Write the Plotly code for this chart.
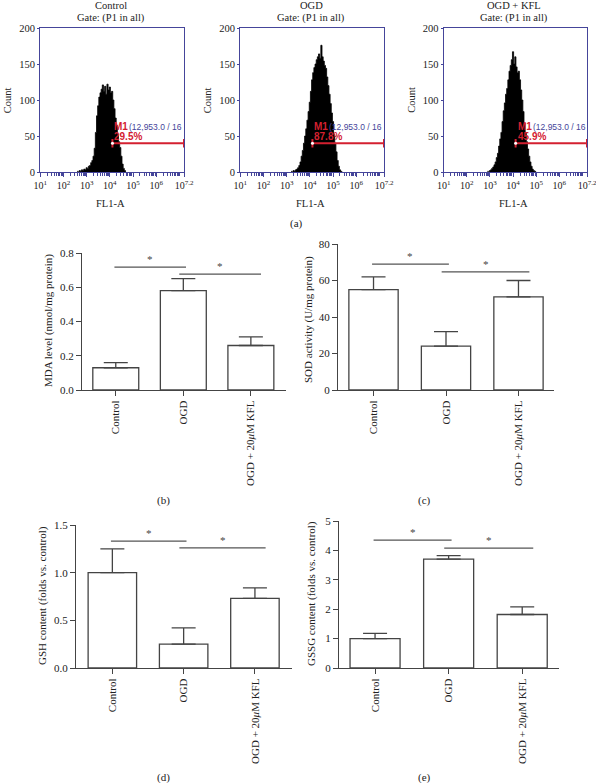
import numpy as np
import plotly.graph_objects as go

# ---------------- data ----------------
hist_titles = ["Control", "OGD", "OGD + KFL"]
gate_text = "Gate: (P1 in all)"
gate_pct = ["29.5%", "87.8%", "45.9%"]
gate_lo = 12953.0
gate_hi_exp = 7.2
gate_level = 40
hist_tick_exps = [1, 2, 3, 4, 5, 6, 7.2]
hist_tick_text = ["10<sup>1</sup>", "10<sup>2</sup>", "10<sup>3</sup>", "10<sup>4</sup>",
                  "10<sup>5</sup>", "10<sup>6</sup>", "10<sup>7.2</sup>"]

ctrl_start, ogd_start, kfl_start = 2.60, 3.20, 2.90
bin_step = 0.05
ctrl_counts = [1, 0, 2, 1, 3, 2, 4, 3, 6, 5, 8, 9, 13, 16, 22, 33, 55, 78, 92, 104, 110,
               115, 121, 112, 119, 108, 122, 114, 118, 110, 112, 100, 88, 75, 65, 52, 42,
               34, 22, 11, 5, 2, 0]
ogd_counts = [1, 0, 2, 1, 3, 4, 6, 9, 14, 22, 30, 40, 50, 60, 72, 84, 97, 112, 128, 138,
              145, 150, 156, 160, 164, 158, 176, 160, 154, 148, 144, 132, 120, 108, 95, 82,
              70, 52, 40, 28, 16, 8, 3, 1, 0]
kfl_counts = [1, 0, 2, 3, 5, 7, 10, 14, 20, 26, 36, 46, 55, 70, 85, 96, 108, 116, 128, 140,
              148, 156, 167, 150, 160, 146, 138, 140, 128, 114, 100, 84, 68, 55, 42, 32, 22,
              14, 8, 4, 2, 1, 0]

categories = ["Control", "OGD", "OGD + 20<i>μ</i>M KFL"]
mda_mean = [0.13, 0.58, 0.26]
mda_err = [0.03, 0.07, 0.05]
sod_mean = [55, 24, 51]
sod_err = [7, 8, 9]
gsh_mean = [1.0, 0.25, 0.73]
gsh_err = [0.25, 0.17, 0.11]
gssg_mean = [1.0, 3.70, 1.82]
gssg_err = [0.18, 0.12, 0.26]
sig_spans = [(-0.02, 1.04), (0.94, 2.15)]
mda_sig_y = [0.718, 0.677]
sod_sig_y = [69, 64.7]
gsh_sig_y = [1.33, 1.26]
gssg_sig_y = [4.35, 4.08]

# ---------------- layout helpers ----------------
W, H = 596, 783
SERIF = "Liberation Serif"
frame = "#45459a"
dark = "#444444"
red = "#d42030"


def px_x(p):
    return p / W


def px_y(p):
    return 1 - p / H


def paper_text(text, x, y, size=10.5, angle=0):
    return dict(text=text, x=px_x(x), y=px_y(y), xref="paper", yref="paper", showarrow=False,
                xanchor="center", yanchor="middle", textangle=angle,
                font=dict(family=SERIF, size=size, color="#222"))


fig = go.Figure()
annotations = []
shapes = []

# ---------------- histograms (a) ----------------
hist_sets = [(ctrl_start, ctrl_counts), (ogd_start, ogd_counts), (kfl_start, kfl_counts)]
hist_x_px = [(40.3, 184.0), (240.3, 384.0), (443.7, 587.0)]
for i, ((start, counts), (xl, xr)) in enumerate(zip(hist_sets, hist_x_px)):
    n = i + 1
    xa = f"x{n}" if n > 1 else "x"
    ya = f"y{n}" if n > 1 else "y"
    exps = start + bin_step * np.arange(len(counts))
    fig.add_trace(go.Scatter(x=10 ** exps, y=counts, mode="lines", line=dict(color="black", width=0.8, shape="hvh"),
                             fill="tozeroy", fillcolor="black", xaxis=xa, yaxis=ya, showlegend=False,
                             hoverinfo="skip"))
    hi = 10 ** gate_hi_exp
    fig.add_trace(go.Scatter(x=[gate_lo, hi], y=[gate_level, gate_level], mode="lines",
                             line=dict(color=red, width=2), xaxis=xa, yaxis=ya, showlegend=False))
    fig.add_trace(go.Scatter(x=[gate_lo, gate_lo, None, hi, hi],
                             y=[gate_level - 6, gate_level + 6, None, gate_level - 6, gate_level + 6],
                             mode="lines", line=dict(color=red, width=2), xaxis=xa, yaxis=ya, showlegend=False))
    fig.add_trace(go.Scatter(x=[gate_lo], y=[gate_level], mode="markers",
                             marker=dict(color="white", size=3), xaxis=xa, yaxis=ya, showlegend=False))
    ax_key = "xaxis" if n == 1 else f"xaxis{n}"
    ay_key = "yaxis" if n == 1 else f"yaxis{n}"
    fig.update_layout(**{
        ax_key: dict(domain=[px_x(xl), px_x(xr)], anchor=ya, type="log", range=[1, 7.2], automargin=False,
                     tickvals=[10 ** e for e in hist_tick_exps], ticktext=hist_tick_text,
                     ticklabeloverflow="allow",
                     showline=True, mirror=True, linecolor=frame, linewidth=1.2,
                     ticks="outside", ticklen=4, tickcolor=frame, showgrid=False, zeroline=False,
                     minor=dict(ticks="outside", ticklen=3, tickcolor=frame, dtick="D1", showgrid=False),
                     tickfont=dict(family=SERIF, size=10, color="#222")),
        ay_key: dict(domain=[px_y(172), px_y(28)], anchor=xa, range=[0, 200], automargin=False,
                     tickvals=[0, 50, 100, 150, 200], showline=True, mirror=True, linecolor=frame,
                     linewidth=1.2, ticks="outside", ticklen=2, tickcolor=frame, showgrid=False,
                     zeroline=False, tickfont=dict(family=SERIF, size=10.5, color="#222")),
    })
    cx = (xl + xr) / 2
    annotations += [
        paper_text(hist_titles[i], cx - 1, 5),
        paper_text(gate_text, cx - 1, 18),
        paper_text("FL1-A", cx - 2, 203),
        paper_text("Count", xl - 33, 100, angle=-90),
        dict(text="<b>M1</b>", x=np.log10(gate_lo), y=63, xref=xa, yref=ya, showarrow=False,
             xanchor="left", yanchor="middle", xshift=0, font=dict(family="Liberation Sans", size=10, color=red)),
        dict(text="(12,953.0 / 16", x=np.log10(gate_lo), y=63, xref=xa, yref=ya, showarrow=False,
             xanchor="left", yanchor="middle", xshift=15,
             font=dict(family="Liberation Sans", size=8.5, color=frame)),
        dict(text="<b>" + gate_pct[i] + "</b>", x=np.log10(gate_lo), y=49, xref=xa, yref=ya,
             showarrow=False, xanchor="left", yanchor="middle", xshift=0,
             font=dict(family="Liberation Sans", size=10, color=red)),
    ]

annotations.append(paper_text("(a)", 296, 223, size=11))

# ---------------- bar panels ----------------
bar_panels = [
    (mda_mean, mda_err, mda_sig_y, (82, 286), (390, 253), [0, 0.8], 0.2, ".1f",
     "MDA level (nmol/mg protein)", (48, 321), "(b)", (163, 500), (-0.50, 2.52)),
    (sod_mean, sod_err, sod_sig_y, (338, 554), (390, 244), [0, 80], 20, "d",
     "SOD activity (U/mg protein)", (308, 320), "(c)", (424, 500), (-0.49, 2.49)),
    (gsh_mean, gsh_err, gsh_sig_y, (76, 292), (668, 525), [0, 1.5], 0.5, ".1f",
     "GSH content (folds vs. control)", (42, 596), "(d)", (163, 777), (-0.51, 2.52)),
    (gssg_mean, gssg_err, gssg_sig_y, (339, 559), (668, 521), [0, 5], 1, "d",
     "GSSG content (folds vs. control)", (311, 594), "(e)", (424, 777), (-0.49, 2.50)),
]

for j, (mean, err, sig_y, xpx, ypx, yr, dt, fmt, title, tpos, lab, lpos, xrng) in enumerate(bar_panels):
    n = 4 + j
    xa, ya = f"x{n}", f"y{n}"
    fig.add_trace(go.Bar(x=categories, y=mean, width=0.68, marker=dict(color="white", line=dict(color=dark, width=1.3)),
                         error_y=dict(type="data", symmetric=False, array=err, arrayminus=[0] * len(err),
                                      color=dark, thickness=1.3, width=12),
                         xaxis=xa, yaxis=ya, showlegend=False))
    fig.update_layout(**{
        f"xaxis{n}": dict(domain=[px_x(xpx[0]), px_x(xpx[1])], anchor=ya, type="category", automargin=False,
                          categoryorder="array", categoryarray=categories, range=list(xrng),
                          showline=True, linecolor=dark, linewidth=1.3, ticks="outside", ticklen=5,
                          tickcolor=dark, tickwidth=1.2, tickangle=-90, showgrid=False, zeroline=False,
                          tickfont=dict(family=SERIF, size=11, color="#222")),
        f"yaxis{n}": dict(domain=[px_y(ypx[0]), px_y(ypx[1])], anchor=xa, range=yr, dtick=dt, automargin=False,
                          tickformat=fmt, showline=True, linecolor=dark, linewidth=1.3, ticks="outside",
                          ticklen=5, tickcolor=dark, tickwidth=1.2, showgrid=False, zeroline=False,
                          tickfont=dict(family=SERIF, size=11, color="#222")),
    })
    for (x0, x1), yv in zip(sig_spans, sig_y):
        shapes.append(dict(type="line", xref=xa, yref=ya, x0=x0, x1=x1, y0=yv, y1=yv,
                           line=dict(color="#555", width=1.2)))
        annotations.append(dict(text="*", x=(x0 + x1) / 2, y=yv, xref=xa, yref=ya, showarrow=False,
                                xanchor="center", yanchor="bottom", yshift=0,
                                font=dict(family=SERIF, size=11, color="#444")))
    annotations.append(paper_text(title, tpos[0], tpos[1], size=11, angle=-90))
    annotations.append(paper_text(lab, lpos[0], lpos[1], size=11))

fig.update_layout(width=W, height=H, margin=dict(l=0, r=0, t=0, b=0), paper_bgcolor="white",
                  plot_bgcolor="white", annotations=annotations, shapes=shapes, bargap=0.3)
fig.write_html("out.html", config={"displayModeBar": False},
               post_script="document.body.style.margin='0px';")
